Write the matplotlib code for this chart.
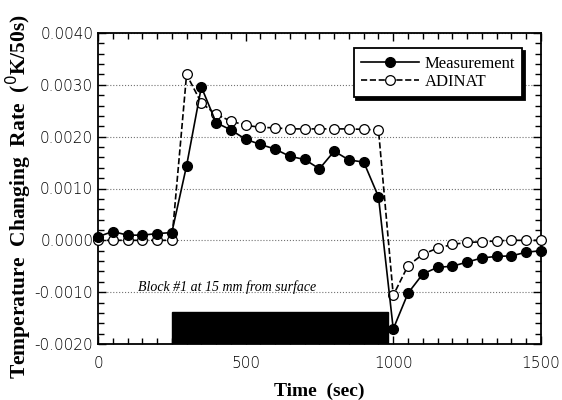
import numpy as np
import matplotlib.pyplot as plt
from matplotlib.ticker import MultipleLocator, FormatStrFormatter

# time axis (sec)
time = [0, 50, 100, 150, 200, 250, 300, 350, 400, 450, 500, 550, 600, 650, 700,
        750, 800, 850, 900, 950, 1000, 1050, 1100, 1150, 1200, 1250, 1300,
        1350, 1400, 1450, 1500]

# measured rate (K/50s)
measurement = [0.00007, 0.00017, 0.00010, 0.00010, 0.00013, 0.00015, 0.00144,
               0.00296, 0.00227, 0.00213, 0.00195, 0.00185, 0.00176, 0.00162,
               0.00156, 0.00138, 0.00172, 0.00155, 0.00151, 0.00084, -0.00171,
               -0.00102, -0.00065, -0.00052, -0.00050, -0.00042, -0.00034,
               -0.00031, -0.00030, -0.00023, -0.00020]

# ADINAT model
adinat = [0.0, 0.0, 0.0, 0.0, 0.0, 0.0, 0.00320, 0.00265, 0.00243, 0.00230,
          0.00222, 0.00218, 0.00217, 0.00215, 0.00215, 0.00215, 0.00215,
          0.00215, 0.00214, 0.00213, -0.00106, -0.00049, -0.00027, -0.00015,
          -0.00008, -0.00004, -0.00003, -0.00001, 0.0, 0.0, 0.0]

# heating block period
block_start = 250
block_end = 982
block_top = -0.00138

fig = plt.figure(figsize=(5.62, 4.0), dpi=100)
ax = fig.add_axes([0.1744, 0.14, 0.788, 0.7775])

ax.axhspan(-0.0020, block_top, xmin=block_start / 1500, xmax=block_end / 1500,
           color="black", zorder=1)

ax.plot(time, adinat, linestyle="--", color="black", linewidth=1.2,
        marker="o", markersize=7, markerfacecolor="white",
        markeredgecolor="black", markeredgewidth=0.9, label="ADINAT",
        zorder=3, clip_on=False)
ax.plot(time, measurement, linestyle="-", color="black", linewidth=1.2,
        marker="o", markersize=7, markerfacecolor="black",
        markeredgecolor="black", label="Measurement", zorder=4, clip_on=False)

ax.set_xlim(0, 1500)
ax.set_ylim(-0.0020, 0.0040)
ax.xaxis.set_major_locator(MultipleLocator(500))
ax.xaxis.set_minor_locator(MultipleLocator(50))
ax.yaxis.set_major_locator(MultipleLocator(0.001))
ax.yaxis.set_minor_locator(MultipleLocator(0.0002))
ax.yaxis.set_major_formatter(FormatStrFormatter("%.4f"))

ax.tick_params(which="both", direction="in", top=True, right=True)
ax.tick_params(which="major", length=6, width=1, labelsize=11)
ax.tick_params(which="minor", length=4, width=1)
ax.tick_params(axis="x", which="major", pad=9)
for lab in ax.get_xticklabels() + ax.get_yticklabels():
    lab.set_fontfamily("DejaVu Sans")
    lab.set_fontweight("light")

for s in ax.spines.values():
    s.set_linewidth(1.3)

ax.yaxis.grid(True, which="major", linestyle=":", color="0.45", linewidth=0.8)
ax.set_axisbelow(True)

ax.set_xlabel("Time  (sec)", fontfamily="Liberation Serif", fontweight="bold",
              fontsize=14)
ax.xaxis.set_label_coords(0.5, -0.125)
ax.set_ylabel("Temperature  Changing  Rate  ($^{0}$K/50s)",
              fontfamily="Liberation Serif", fontweight="bold", fontsize=15.5)
ax.yaxis.set_label_coords(-0.145, 0.475)

ax.text(135, -0.00091, "Block #1 at 15 mm from surface",
        fontfamily="Liberation Serif", fontstyle="italic", fontsize=10,
        va="center", ha="left", zorder=5)

handles, labels = ax.get_legend_handles_labels()
leg = ax.legend(handles[::-1], labels[::-1], loc="upper right",
                bbox_to_anchor=(0.977, 0.977), fancybox=False,
                shadow={"color": "black", "alpha": 1.0},
                prop={"family": "Liberation Serif", "size": 12},
                handlelength=3.5, borderpad=0.45, labelspacing=0.1,
                handletextpad=0.3, framealpha=1)
leg.get_frame().set_edgecolor("black")
leg.get_frame().set_linewidth(1.3)

plt.savefig("out.png", dpi=100)
